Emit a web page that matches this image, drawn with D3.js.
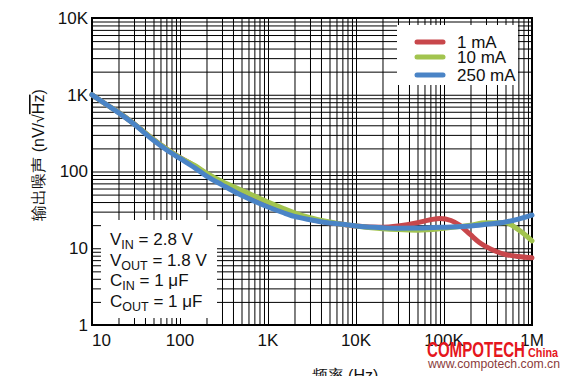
<!DOCTYPE html>
<html>
<head>
<meta charset="utf-8">
<title>输出噪声 vs 频率</title>
<script src="https://d3js.org/d3.v7.min.js"></script>
<style>
  body { margin: 0; background: #fff; }
  text { font-family: "Liberation Sans", Arial, sans-serif; fill: #111; }
  .grid line { stroke: #000; stroke-width: 1; }
  .grid .domain { display: none; }
</style>
</head>
<body>
<script>
// series (Hz, nV/rtHz)
var f1mA   = [10, 15, 20, 30, 50, 70, 100, 150, 200, 300, 500, 700, 1000, 1500, 2000, 3000, 5000, 7000, 10000, 20000, 30000, 50000, 70000, 90000, 120000, 150000, 200000, 250000, 300000, 400000, 500000, 700000, 1000000];
var v1mA   = [1000, 730, 590, 420, 262, 198, 152, 116, 93, 72, 54, 46, 38, 31, 28, 24, 21.5, 20.5, 19.5, 18.8, 19.5, 21.5, 23.5, 24.5, 23, 20, 15, 12, 10.5, 9, 8.3, 7.8, 7.5];
var f10mA  = [10, 15, 20, 30, 50, 70, 100, 150, 200, 300, 500, 700, 1000, 1500, 2000, 3000, 5000, 7000, 10000, 20000, 30000, 50000, 100000, 200000, 300000, 500000, 700000, 1000000];
var v10mA  = [1000, 730, 590, 420, 262, 198, 152, 118, 95, 74, 57, 48, 40, 33, 29, 25, 22, 20.5, 19.5, 18, 17.5, 17.2, 18.2, 20, 21.5, 21.5, 17.5, 12.5];
var f250mA = [10, 15, 20, 30, 50, 70, 100, 150, 200, 300, 500, 700, 1000, 1500, 2000, 3000, 5000, 7000, 10000, 20000, 30000, 50000, 100000, 200000, 300000, 500000, 700000, 1000000];
var v250mA = [1000, 730, 585, 415, 255, 192, 148, 110, 87, 67, 49, 41, 34.5, 29, 26, 23.5, 21.3, 20.5, 19.5, 18.5, 18.2, 18.3, 18.8, 19.5, 20.5, 22, 24, 27];

var seriesNames = ["1 mA", "10 mA", "250 mA"];
var seriesColors = ["#c8474b", "#a2c44f", "#4a84c6"];

var xTickValues = [10, 100, 1000, 10000, 100000, 1000000];
var xTickLabels = ["10", "100", "1K", "10K", "100K", "1M"];
var yTickValues = [1, 10, 100, 1000, 10000];
var yTickLabels = ["1", "10", "100", "1K", "10K"];

var notes = [["V", "IN", " = 2.8 V"], ["V", "OUT", " = 1.8 V"], ["C", "IN", " = 1 μF"], ["C", "OUT", " = 1 μF"]];

var W = 567, H = 376;
var plotL = 92, plotR = 532, plotT = 18, plotB = 325;

var svg = d3.select("body").append("svg")
    .attr("width", W)
    .attr("height", H);

var x = d3.scaleLog().domain([10, 1e6]).range([plotL, plotR]);
var y = d3.scaleLog().domain([1, 1e4]).range([plotB, plotT]);

// grid
svg.append("g")
    .attr("class", "grid")
    .attr("transform", "translate(0," + plotB + ")")
    .call(d3.axisBottom(x).ticks(50).tickSize(-(plotB - plotT)).tickFormat(""));

svg.append("g")
    .attr("class", "grid")
    .attr("transform", "translate(" + plotL + ",0)")
    .call(d3.axisLeft(y).ticks(50).tickSize(-(plotR - plotL)).tickFormat(""));

// white boxes for legend and conditions
svg.append("rect")
    .attr("x", 397).attr("y", 25)
    .attr("width", 121).attr("height", 60)
    .attr("fill", "#fff");

svg.append("rect")
    .attr("x", 101).attr("y", 220)
    .attr("width", 116).attr("height", 98)
    .attr("fill", "#fff");

// frame
svg.append("rect")
    .attr("x", plotL).attr("y", plotT)
    .attr("width", plotR - plotL).attr("height", plotB - plotT)
    .attr("fill", "none")
    .attr("stroke", "#000")
    .attr("stroke-width", 2);

// tick labels
svg.append("g")
    .selectAll("text")
    .data(xTickValues)
    .enter().append("text")
    .attr("x", function(d) { return x(d); })
    .attr("y", 346)
    .attr("text-anchor", function(d, i) { return i === 0 ? "start" : "middle"; })
    .attr("font-size", 17)
    .text(function(d, i) { return xTickLabels[i]; });

svg.append("g")
    .selectAll("text")
    .data(yTickValues)
    .enter().append("text")
    .attr("x", 88)
    .attr("y", function(d) { return y(d); })
    .attr("dy", "0.35em")
    .attr("text-anchor", "end")
    .attr("font-size", 17)
    .text(function(d, i) { return yTickLabels[i]; });

// curves
var line = d3.line()
    .x(function(d) { return x(d[0]); })
    .y(function(d) { return y(d[1]); })
    .curve(d3.curveMonotoneX);

var series = [d3.zip(f1mA, v1mA), d3.zip(f10mA, v10mA), d3.zip(f250mA, v250mA)];

svg.append("g")
    .selectAll("path")
    .data(series)
    .enter().append("path")
    .attr("d", line)
    .attr("fill", "none")
    .attr("stroke", function(d, i) { return seriesColors[i]; })
    .attr("stroke-width", 5)
    .attr("stroke-linejoin", "round")
    .attr("stroke-linecap", "round");

// legend
var legend = svg.append("g")
    .selectAll("g")
    .data(seriesNames)
    .enter().append("g")
    .attr("transform", function(d, i) { return "translate(0," + [42, 57, 75][i] + ")"; });

legend.append("line")
    .attr("x1", 417).attr("x2", 443)
    .attr("stroke", function(d, i) { return seriesColors[i]; })
    .attr("stroke-width", 5)
    .attr("stroke-linecap", "round");

legend.append("text")
    .attr("x", 457)
    .attr("dy", "0.36em")
    .attr("font-size", 17)
    .text(function(d) { return d; });

// operating conditions
var noteText = svg.append("g")
    .selectAll("text")
    .data(notes)
    .enter().append("text")
    .attr("x", 110)
    .attr("y", function(d, i) { return 245 + i * 20.6; })
    .attr("font-size", 17);

noteText.append("tspan").text(function(d) { return d[0]; });
noteText.append("tspan").attr("font-size", 12.5).attr("dy", 4).text(function(d) { return d[1]; });
noteText.append("tspan").attr("dy", -4).text(function(d) { return d[2]; });

// axis titles
var yt = svg.append("text")
    .attr("transform", "translate(44,155) rotate(-90)")
    .attr("text-anchor", "middle")
    .attr("font-size", 16)
    .attr("font-family", "'Noto Sans CJK SC', 'Liberation Sans', sans-serif");
yt.append("tspan").text("输出噪声 (nV/√");
yt.append("tspan").style("text-decoration", "overline").text("Hz");
yt.append("tspan").text(")");

svg.append("text")
    .attr("x", 345)
    .attr("y", 381)
    .attr("text-anchor", "middle")
    .attr("font-size", 16)
    .attr("font-family", "'Noto Sans CJK SC', 'Liberation Sans', sans-serif")
    .text("频率 (Hz)");

// watermark
svg.append("text")
    .attr("x", 427).attr("y", 357)
    .attr("font-size", 22)
    .attr("font-weight", "900")
    .attr("font-family", "'DejaVu Sans Condensed', 'Liberation Sans Narrow', sans-serif")
    .attr("textLength", 98)
    .attr("lengthAdjust", "spacingAndGlyphs")
    .style("fill", "#e5161d")
    .text("COMPOTECH");

svg.append("text")
    .attr("x", 528).attr("y", 357)
    .attr("font-size", 13)
    .attr("font-weight", "bold")
    .attr("textLength", 30)
    .attr("lengthAdjust", "spacingAndGlyphs")
    .style("fill", "#e5161d")
    .text("China");

svg.append("text")
    .attr("x", 428).attr("y", 368)
    .attr("font-size", 12)
    .attr("textLength", 132)
    .attr("lengthAdjust", "spacingAndGlyphs")
    .style("fill", "#8a3b3b")
    .text("www.compotech.com.cn");
</script>
</body>
</html>
